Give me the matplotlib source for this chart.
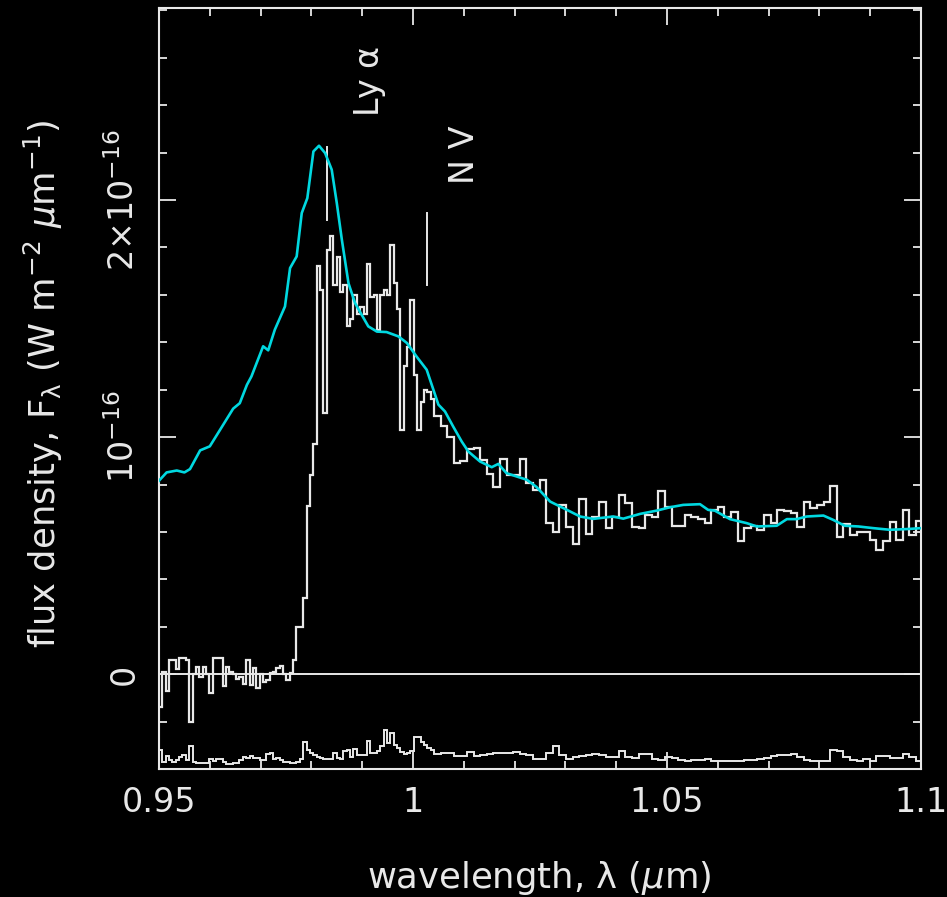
import numpy as np
import matplotlib.pyplot as plt
from matplotlib.ticker import MultipleLocator

# wavelength grid (micron): fine sampling blueward of ~1.004, coarser redward
fine_start = 0.95
fine_step = 0.00066
n_fine = 82
coarse_step = 0.0013
n_coarse = 74

# flux in units of 1e-16 W m^-2 um^-1
fine_flux = [
    -0.14, 0.01, -0.07, 0.06, 0.06, 0.02, 0.07, 0.07, 0.06, -0.20,
    0.00, 0.03, -0.01, 0.03, 0.00, -0.08, 0.07, 0.07, 0.07, -0.05,
    0.03, 0.01, 0.00, -0.02, -0.01, -0.04, 0.06, -0.045, 0.025, -0.06,
    0.00, -0.035, -0.025, 0.005, 0.01, 0.025, 0.035, 0.00, -0.025, 0.005,
    0.06, 0.20, 0.20, 0.32, 0.71, 0.84, 0.97, 1.72, 1.62, 1.10,
    1.79, 1.85, 1.64, 1.76, 1.61, 1.64, 1.47, 1.50, 1.60, 1.52,
    1.55, 1.52, 1.73, 1.59, 1.60, 1.45, 1.60, 1.62, 1.60, 1.81,
    1.65, 1.54, 1.03, 1.30, 1.38, 1.58, 1.26, 1.03, 1.15, 1.20,
    1.19, 1.16,
]
coarse_flux = [
    1.09, 1.045, 1.00, 0.89, 0.90, 0.95, 0.955, 0.905, 0.845, 0.79,
    0.907, 0.84, 0.84, 0.907, 0.806, 0.778, 0.82, 0.637, 0.60, 0.714,
    0.62, 0.55, 0.74, 0.59, 0.665, 0.728, 0.616, 0.665, 0.757, 0.72,
    0.62, 0.616, 0.672, 0.665, 0.773, 0.707, 0.626, 0.626, 0.672, 0.665,
    0.654, 0.637, 0.693, 0.707, 0.665, 0.686, 0.56, 0.616, 0.623, 0.61,
    0.672, 0.637, 0.693, 0.69, 0.68, 0.62, 0.728, 0.70, 0.714, 0.728,
    0.794, 0.578, 0.635, 0.588, 0.60, 0.60, 0.567, 0.525, 0.56, 0.64,
    0.567, 0.693, 0.588, 0.644,
]

# noise spectrum, drawn shifted down by noise_offset
noise_offset = -0.4
fine_noise = [
    0.080, 0.031, 0.055, 0.038, 0.031, 0.038, 0.052, 0.059, 0.038, 0.097,
    0.031, 0.024, 0.024, 0.024, 0.024, 0.041, 0.035, 0.041, 0.041, 0.031,
    0.021, 0.021, 0.027, 0.027, 0.038, 0.052, 0.045, 0.055, 0.045, 0.045,
    0.038, 0.038, 0.063, 0.069, 0.041, 0.045, 0.038, 0.031, 0.031, 0.027,
    0.027, 0.031, 0.041, 0.115, 0.080, 0.066, 0.059, 0.049, 0.045, 0.041,
    0.041, 0.041, 0.069, 0.045, 0.041, 0.077, 0.080, 0.049, 0.083, 0.059,
    0.059, 0.059, 0.120, 0.066, 0.066, 0.077, 0.097, 0.165, 0.111, 0.150,
    0.101, 0.087, 0.073, 0.063, 0.066, 0.077, 0.136, 0.136, 0.115, 0.101,
    0.087, 0.080,
]
coarse_noise = [
    0.063, 0.066, 0.069, 0.055, 0.055, 0.073, 0.055, 0.059, 0.063, 0.069,
    0.066, 0.069, 0.073, 0.063, 0.059, 0.041, 0.042, 0.068, 0.096, 0.060,
    0.042, 0.051, 0.053, 0.059, 0.063, 0.059, 0.051, 0.051, 0.075, 0.051,
    0.046, 0.063, 0.063, 0.042, 0.037, 0.051, 0.046, 0.037, 0.032, 0.037,
    0.039, 0.042, 0.032, 0.032, 0.032, 0.032, 0.032, 0.037, 0.037, 0.042,
    0.046, 0.053, 0.060, 0.060, 0.063, 0.051, 0.037, 0.032, 0.032, 0.032,
    0.082, 0.075, 0.051, 0.037, 0.032, 0.042, 0.032, 0.056, 0.056, 0.046,
    0.046, 0.063, 0.051, 0.032,
]

# composite quasar template (cyan)
model_wave = [
    0.9500, 0.9515, 0.9535, 0.9550, 0.9561, 0.9581, 0.9600, 0.9620, 0.9646, 0.9659,
    0.9673, 0.9682, 0.9705, 0.9715, 0.9728, 0.9748, 0.9758, 0.9771, 0.9781, 0.9792,
    0.9804, 0.9815, 0.9827, 0.9840, 0.9850, 0.9860, 0.9873, 0.9886, 0.9912, 0.9929,
    0.9948, 0.9971, 0.9988, 1.0007, 1.0027, 1.0050, 1.0063, 1.0079, 1.0096, 1.0109,
    1.0132, 1.0155, 1.0168, 1.0184, 1.0201, 1.0224, 1.0243, 1.0270, 1.0303, 1.0329,
    1.0355, 1.0394, 1.0414, 1.0447, 1.0480, 1.0506, 1.0532, 1.0565, 1.0581, 1.0594,
    1.0624, 1.0657, 1.0677, 1.0716, 1.0736, 1.0755, 1.0775, 1.0808, 1.0827, 1.0850,
    1.0877, 1.0906, 1.0939, 1.0972, 1.1001,
]
model_flux = [
    0.816, 0.851, 0.859, 0.851, 0.865, 0.944, 0.961, 1.030, 1.120, 1.143,
    1.220, 1.256, 1.383, 1.366, 1.453, 1.551, 1.713, 1.762, 1.945, 2.008,
    2.205, 2.229, 2.198, 2.128, 1.987, 1.832, 1.649, 1.565, 1.467, 1.445,
    1.443, 1.425, 1.397, 1.340, 1.284, 1.137, 1.108, 1.045, 0.981, 0.939,
    0.897, 0.873, 0.887, 0.848, 0.836, 0.820, 0.790, 0.728, 0.693, 0.665,
    0.655, 0.665, 0.656, 0.676, 0.690, 0.704, 0.714, 0.717, 0.693, 0.690,
    0.654, 0.637, 0.623, 0.626, 0.654, 0.654, 0.665, 0.669, 0.651, 0.626,
    0.623, 0.616, 0.609, 0.612, 0.616,
]

# emission line markers: wavelength and vertical extent
line_names = [r'Ly $\mathrm{\alpha}$', 'N V']
line_wave = [0.9830, 1.0027]
line_lo = [1.917, 1.643]
line_hi = [2.225, 1.946]

fg = '#e8e8e8'
cyan = '#00d8e0'
plt.rcParams['font.family'] = 'DejaVu Sans'
plt.rcParams['mathtext.fontset'] = 'dejavusans'
fs_tick = 24
fs_label = 25.5

edges = np.concatenate([
    fine_start + fine_step * np.arange(n_fine + 1),
    fine_start + fine_step * n_fine + coarse_step * np.arange(1, n_coarse + 1),
])
flux = np.array(fine_flux + coarse_flux)
noise = np.array(fine_noise + coarse_noise)

fig = plt.figure(figsize=(9.47, 8.97), dpi=100, facecolor='black')
ax = fig.add_axes([0.1679, 0.1427, 0.8046, 0.8484], facecolor='black')

ax.axhline(0, color=fg, lw=1.4, zorder=1)
ax.stairs(noise + noise_offset, edges, baseline=None, color=fg, lw=1.4, zorder=2)
ax.stairs(flux, edges, baseline=None, color=fg, lw=1.6, zorder=2)
ax.plot(model_wave, model_flux, color=cyan, lw=1.9, zorder=3)

for w, lo, hi in zip(line_wave, line_lo, line_hi):
    ax.plot([w, w], [lo, hi], color=fg, lw=1.4)
ax.text(0.9915, 2.50, line_names[0], rotation=90, ha='center', va='center',
        color=fg, fontsize=fs_tick)
ax.text(1.0102, 2.19, line_names[1], rotation=90, ha='center', va='center',
        color=fg, fontsize=fs_tick)

ax.set_xlim(0.95, 1.1)
ax.set_ylim(-0.4, 2.81)
ax.set_xticks([0.95, 1.0, 1.05, 1.1])
ax.set_xticklabels(['0.95', '1', '1.05', '1.1'])
ax.xaxis.set_minor_locator(MultipleLocator(0.01))
ax.set_yticks([0, 1, 2])
ax.set_yticklabels(['0', r'$10^{-16}$', r'$2{\times}10^{-16}$'],
                   rotation=90, va='center')
ax.yaxis.set_minor_locator(MultipleLocator(0.2))

ax.tick_params(which='both', direction='in', top=True, right=True,
               colors=fg, width=1.3, labelsize=fs_tick)
ax.tick_params(which='major', length=12.5)
ax.tick_params(which='minor', length=6)
ax.tick_params(axis='x', pad=12)
ax.tick_params(axis='y', pad=13)
for s in ax.spines.values():
    s.set_color(fg)
    s.set_linewidth(1.5)

ax.set_xlabel(r'wavelength, $\mathrm{\lambda}$ ($\mu$m)', color=fg, fontsize=fs_label)
ax.set_ylabel(r'flux density, F$_\mathrm{\lambda}$ (W m$^{-2}$ $\mu$m$^{-1}$)',
              color=fg, fontsize=fs_label)
ax.xaxis.set_label_coords(0.499, -0.118)
ax.yaxis.set_label_coords(-0.123, 0.506)

fig.savefig('out.png', dpi=100, facecolor='black')
